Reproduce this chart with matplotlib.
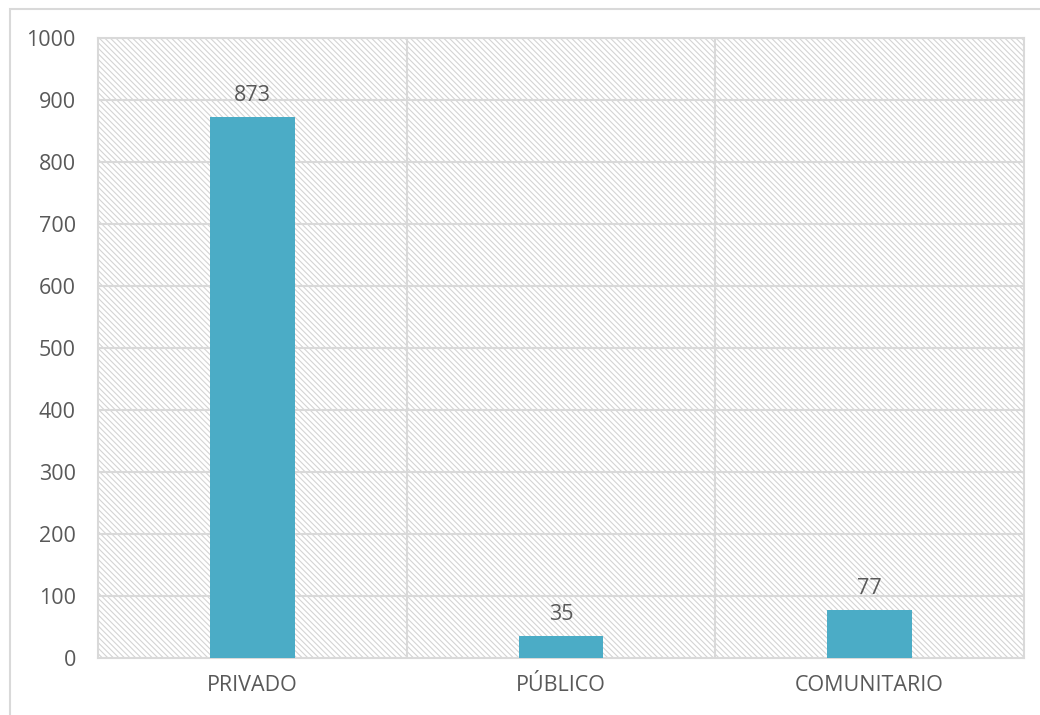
import matplotlib
matplotlib.use('Agg')
import matplotlib.pyplot as plt
from matplotlib.patches import Rectangle

categories = ['PRIVADO', 'PÚBLICO', 'COMUNITARIO']
counts = [873, 35, 77]
y_ticks = [0, 100, 200, 300, 400, 500, 600, 700, 800, 900, 1000]

text_color = '#595959'
grid_color = '#d9d9d9'
bar_color = '#4bacc6'

plt.rcParams['font.family'] = ['Open Sans', 'DejaVu Sans']
plt.rcParams['hatch.linewidth'] = 0.8

fig = plt.figure(figsize=(10.4, 7.15), dpi=100)
fig.patch.set_facecolor('white')

# light frame around the whole chart
fig.add_artist(Rectangle((10 / 1040, -0.1), 1.2, 1.1 - 9 / 715,
                         transform=fig.transFigure, fill=False,
                         edgecolor=grid_color, lw=1.5))

ax = fig.add_axes([98 / 1040, 57 / 715, 926 / 1040, 620 / 715])
ax.set_facecolor('white')

# hatched plot background
ax.add_patch(Rectangle((0, 0), 1, 1, transform=ax.transAxes, fill=False,
                       hatch='\\' * 6, edgecolor='#d4d4d4', lw=0, zorder=0))

x = list(range(len(categories)))
bars = ax.bar(x, counts, width=0.275, color=bar_color, zorder=3)

for xi, v in zip(x, counts):
    ax.annotate(str(v), (xi, v), xytext=(0, 8), textcoords='offset points',
                ha='center', va='bottom', fontsize=15.5, color=text_color)

ax.set_xlim(-0.5, len(categories) - 0.5)
ax.set_ylim(0, 1000)
ax.set_yticks(y_ticks)
ax.set_xticks(x)
ax.set_xticklabels(categories)

for yv in y_ticks[1:]:
    ax.axhline(yv, color=grid_color, lw=1.5, zorder=1)
for xv in [0.5, 1.5]:
    ax.axvline(xv, color=grid_color, lw=1.5, zorder=1)

for s in ax.spines.values():
    s.set_color(grid_color)
    s.set_linewidth(1.5)

ax.tick_params(axis='y', length=0, pad=16, labelsize=15.5, labelcolor=text_color)
ax.tick_params(axis='x', length=0, pad=12, labelsize=15.5, labelcolor=text_color)

fig.savefig('out.png', dpi=100)
